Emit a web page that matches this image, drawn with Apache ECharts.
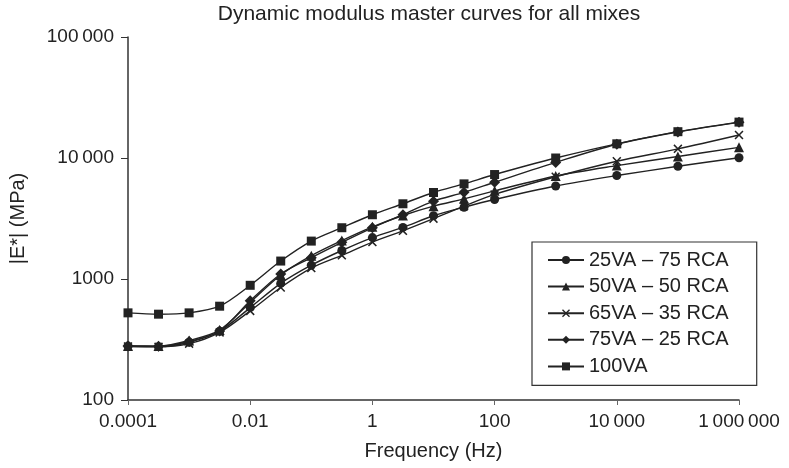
<!DOCTYPE html>
<html>
<head>
<meta charset="utf-8">
<title>Dynamic modulus master curves</title>
<script src="https://cdn.jsdelivr.net/npm/echarts@6/dist/echarts.min.js"></script>
<style>
  html, body { margin: 0; padding: 0; background: #fff; }
  #chart { width: 789px; height: 468px; }
</style>
</head>
<body>
<div id="chart"></div>
<script>
// Reduced frequencies (Hz) at which the master curves are evaluated
const frequency = [0.0001, 0.000316, 0.001, 0.00316, 0.01, 0.0316, 0.1, 0.316, 1, 3.16, 10, 31.6, 100, 1000, 10000, 100000, 1000000];

// |E*| (MPa) for each mix
const mix25VA = [279, 276, 300, 370, 580, 920, 1300, 1720, 2200, 2670, 3330, 3920, 4540, 5870, 7160, 8540, 10050];
const mix50VA = [280, 279, 310, 378, 640, 1080, 1560, 2080, 2700, 3350, 4000, 4600, 5350, 7100, 8650, 10300, 12250];
const mix65VA = [277, 275, 292, 362, 545, 850, 1230, 1570, 2020, 2500, 3150, 4000, 5000, 7000, 9400, 11900, 15500];
const mix75VA = [280, 278, 305, 372, 660, 1100, 1500, 2010, 2650, 3400, 4400, 5200, 6300, 9200, 13000, 16400, 19700];
const mix100VA = [525, 512, 525, 596, 887, 1407, 2057, 2653, 3396, 4185, 5185, 6113, 7300, 10000, 13100, 16500, 19800];

const seriesNames = ['25VA \u2013 75 RCA', '50VA \u2013 50 RCA', '65VA \u2013 35 RCA', '75VA \u2013 25 RCA', '100VA'];

// Axis ticks and their printed labels
const xTickValues = [0.0001, 0.01, 1, 100, 10000, 1000000];
const xTickLabels = ['0.0001', '0.01', '1', '100', '10\u2009000', '1\u2009000\u2009000'];
const yTickValues = [100, 1000, 10000, 100000];
const yTickLabels = ['100', '1000', '10\u2009000', '100\u2009000'];

const INK = '#222';
const FONT = 'Liberation Sans, Arial, Helvetica, sans-serif';
const CROSS = 'path://M0,1.2L1.2,0L5,3.8L8.8,0L10,1.2L6.2,5L10,8.8L8.8,10L5,6.2L1.2,10L0,8.8L3.8,5Z';

function pairUp(values) {
  return frequency.map((f, i) => [f, values[i]]);
}

function labelFor(value, ticks, labels) {
  const e = Math.log10(value);
  let best = 0;
  for (let i = 1; i < ticks.length; i++) {
    if (Math.abs(Math.log10(ticks[i]) - e) < Math.abs(Math.log10(ticks[best]) - e)) best = i;
  }
  return labels[best];
}

function curve(name, values, symbol, size) {
  return {
    name: name,
    type: 'line',
    data: pairUp(values),
    smooth: 0.3,
    symbol: symbol,
    symbolSize: size,
    showAllSymbol: true,
    lineStyle: { color: INK, width: 1.4 },
    itemStyle: { color: INK },
    emphasis: { disabled: true },
    z: 3
  };
}

const chart = echarts.init(document.getElementById('chart'), null, { renderer: 'canvas' });

chart.setOption({
  animation: false,
  backgroundColor: '#fff',
  textStyle: { fontFamily: FONT, color: INK },
  graphic: [{
    type: 'text',
    x: 429,
    y: 14,
    style: {
      text: 'Dynamic modulus master curves for all mixes',
      font: '21px ' + FONT,
      fill: INK,
      align: 'center',
      verticalAlign: 'middle'
    }
  }],
  grid: { left: 128, right: 50, top: 37, bottom: 68, containLabel: false, outerBoundsMode: 'none' },
  legend: {
    orient: 'vertical',
    left: 532,
    top: 242,
    padding: [8, 28, 9, 15],
    itemWidth: 36,
    itemHeight: 10,
    itemGap: 6.6,
    backgroundColor: '#fff',
    borderColor: '#333',
    borderWidth: 1.2,
    borderRadius: 0,
    textStyle: { fontFamily: FONT, fontSize: 20, color: INK, lineHeight: 18 },
    data: seriesNames
  },
  xAxis: {
    type: 'log',
    logBase: 10,
    min: 0.0001,
    max: 1000000,
    name: 'Frequency (Hz)',
    nameLocation: 'middle',
    nameGap: 41,
    nameTextStyle: { fontFamily: FONT, fontSize: 20, color: INK },
    axisLine: { lineStyle: { color: '#333', width: 1.5 } },
    axisTick: { show: true, length: 5, customValues: xTickValues, lineStyle: { color: '#666', width: 1 } },
    minorTick: { show: false },
    splitLine: { show: false },
    axisLabel: {
      customValues: xTickValues,
      margin: 12,
      fontFamily: FONT,
      fontSize: 19,
      color: INK,
      formatter: v => labelFor(v, xTickValues, xTickLabels)
    }
  },
  yAxis: {
    type: 'log',
    logBase: 10,
    min: 100,
    max: 100000,
    name: '|E*| (MPa)',
    nameLocation: 'middle',
    nameGap: 100,
    nameRotate: 90,
    nameTextStyle: { fontFamily: FONT, fontSize: 20, color: INK },
    axisLine: { show: true, lineStyle: { color: '#333', width: 1.5 } },
    axisTick: { show: true, length: 7, customValues: yTickValues, lineStyle: { color: '#333', width: 1 } },
    minorTick: { show: false },
    splitLine: { show: false },
    axisLabel: {
      customValues: yTickValues,
      margin: 14,
      fontFamily: FONT,
      fontSize: 19,
      color: INK,
      formatter: v => labelFor(v, yTickValues, yTickLabels)
    }
  },
  series: [
    curve(seriesNames[0], mix25VA, 'circle', 9),
    curve(seriesNames[1], mix50VA, 'triangle', 10),
    curve(seriesNames[2], mix65VA, CROSS, 9),
    curve(seriesNames[3], mix75VA, 'diamond', 11),
    curve(seriesNames[4], mix100VA, 'rect', 9)
  ]
});
</script>
</body>
</html>
